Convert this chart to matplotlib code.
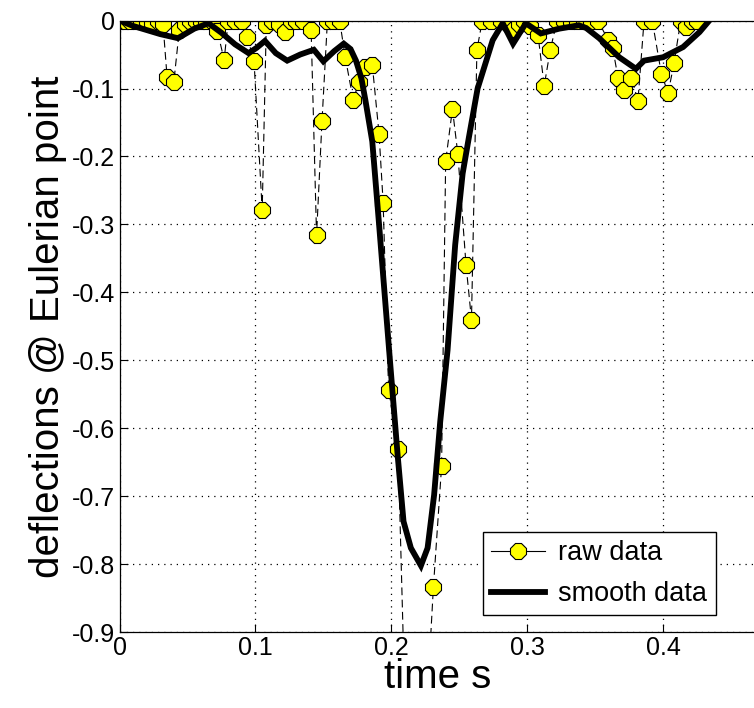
import matplotlib
matplotlib.use("Agg")
import matplotlib.pyplot as plt
from matplotlib.lines import Line2D

plt.rcParams["font.family"] = ["Liberation Sans", "DejaVu Sans"]
plt.rcParams["axes.unicode_minus"] = False

# raw samples (time s, deflection)
raw_t = [0.000, 0.004, 0.008, 0.012, 0.016, 0.020, 0.024, 0.028, 0.032, 0.035,
         0.040, 0.044, 0.048, 0.052, 0.056, 0.060, 0.064, 0.068, 0.072, 0.077,
         0.080, 0.085, 0.090, 0.094, 0.099, 0.105, 0.108, 0.112, 0.117, 0.122,
         0.126, 0.130, 0.135, 0.141, 0.145, 0.149, 0.153, 0.157, 0.162, 0.166,
         0.172, 0.176, 0.181, 0.186, 0.191, 0.194, 0.198, 0.205, 0.212, 0.218,
         0.225, 0.231, 0.237, 0.240, 0.245, 0.249, 0.255, 0.259, 0.263, 0.267,
         0.273, 0.281, 0.286, 0.290, 0.294, 0.298, 0.302, 0.308, 0.3125, 0.317,
         0.322, 0.327, 0.332, 0.337, 0.342, 0.347, 0.352, 0.3594, 0.363, 0.3668,
         0.371, 0.3766, 0.3815, 0.386, 0.392, 0.3987, 0.4037, 0.408, 0.413, 0.417,
         0.421, 0.425]
raw_d = [0.000, 0.000, 0.000, 0.000, 0.000, 0.000, -0.003, 0.000, -0.005, -0.083,
         -0.090, -0.014, -0.005, 0.000, 0.000, 0.000, 0.000, 0.000, -0.015, -0.058,
         0.000, 0.000, 0.000, -0.024, -0.060, -0.279, -0.007, 0.000, -0.005, -0.017,
         0.000, 0.000, 0.000, -0.014, -0.316, -0.148, 0.000, 0.000, 0.000, -0.053,
         -0.117, -0.091, -0.069, -0.065, -0.167, -0.268, -0.543, -0.630, -1.150, -1.300,
         -1.050, -0.833, -0.656, -0.207, -0.130, -0.197, -0.360, -0.440, -0.043, 0.000,
         0.000, 0.000, -0.005, -0.012, -0.005, 0.000, -0.008, -0.022, -0.096, -0.043,
         0.000, 0.000, 0.000, 0.000, 0.000, 0.000, 0.000, -0.028, -0.041, -0.084,
         -0.102, -0.084, -0.118, 0.000, 0.000, -0.078, -0.107, -0.063, 0.000, -0.010,
         0.000, 0.000]

# smoothed curve
smooth_t = [0.000, 0.010, 0.020, 0.030, 0.043, 0.055, 0.0655, 0.075, 0.085, 0.095,
            0.101, 0.107, 0.115, 0.1234, 0.133, 0.143, 0.150, 0.158, 0.165, 0.170,
            0.174, 0.178, 0.181, 0.186, 0.191, 0.195, 0.199, 0.2046, 0.209, 0.2144,
            0.2218, 0.2267, 0.2315, 0.236, 0.2414, 0.247, 0.2525, 0.257, 0.2635, 0.2746,
            0.282, 0.2896, 0.299, 0.310, 0.3235, 0.338, 0.3434, 0.353, 0.3677, 0.380,
            0.386, 0.400, 0.4147, 0.4268, 0.434]
smooth_d = [0.000, -0.008, -0.014, -0.020, -0.026, -0.012, -0.004, -0.018, -0.035, -0.048,
            -0.040, -0.030, -0.048, -0.059, -0.050, -0.043, -0.060, -0.045, -0.034, -0.042,
            -0.059, -0.085, -0.118, -0.178, -0.300, -0.400, -0.500, -0.638, -0.737, -0.776,
            -0.802, -0.776, -0.698, -0.590, -0.485, -0.330, -0.225, -0.173, -0.100, -0.029,
            -0.004, -0.034, -0.004, -0.019, -0.012, -0.007, -0.011, -0.026, -0.054, -0.071,
            -0.059, -0.054, -0.039, -0.017, 0.000]

x_ticks = [0, 0.1, 0.2, 0.3, 0.4]
x_labels = ["0", "0.1", "0.2", "0.3", "0.4"]
y_ticks = [0, -0.1, -0.2, -0.3, -0.4, -0.5, -0.6, -0.7, -0.8, -0.9]
y_labels = ["0", "-0.1", "-0.2", "-0.3", "-0.4", "-0.5", "-0.6", "-0.7", "-0.8", "-0.9"]

fig = plt.figure(figsize=(7.54, 7.08), dpi=100)
ax = fig.add_axes([0.1585, 0.107, 0.8435, 0.864])

ax.plot(raw_t, raw_d, color="black", lw=0.8, dashes=(7, 4),
        marker="8", ms=12, mfc="#ffff00", mec="black", mew=0.8, zorder=2)
ax.plot(smooth_t, smooth_d, color="black", lw=4.2, zorder=3,
        solid_joinstyle="miter")

ax.set_xlim(0, 0.468)
ax.set_ylim(-0.9, 0)
ax.set_xticks(x_ticks)
ax.set_xticklabels(x_labels)
ax.set_yticks(y_ticks)
ax.set_yticklabels(y_labels)
ax.tick_params(direction="in", length=6, width=0.8, labelsize=18, pad=3)
ax.grid(True, color="black", lw=0.9, linestyle=(0, (1, 4)))
for s in ax.spines.values():
    s.set_linewidth(0.9)

ax.set_xlabel("time s", fontsize=29, labelpad=-2)
ax.set_ylabel("deflections @ Eulerian point", fontsize=29, labelpad=4)

handles = [
    Line2D([], [], color="black", lw=0.8, marker="8", ms=12,
           mfc="#ffff00", mec="black", mew=0.8),
    Line2D([], [], color="black", lw=4.2),
]
fig.legend(handles, ["raw data", "smooth data"], loc="lower left",
           bbox_to_anchor=(0.64, 0.131), fontsize=19.5, frameon=True,
           fancybox=False, framealpha=1, edgecolor="black",
           handlelength=2.0, handletextpad=0.5, borderpad=0.3,
           labelspacing=0.55, borderaxespad=0)

fig.savefig("out.png", dpi=100, facecolor="white")
